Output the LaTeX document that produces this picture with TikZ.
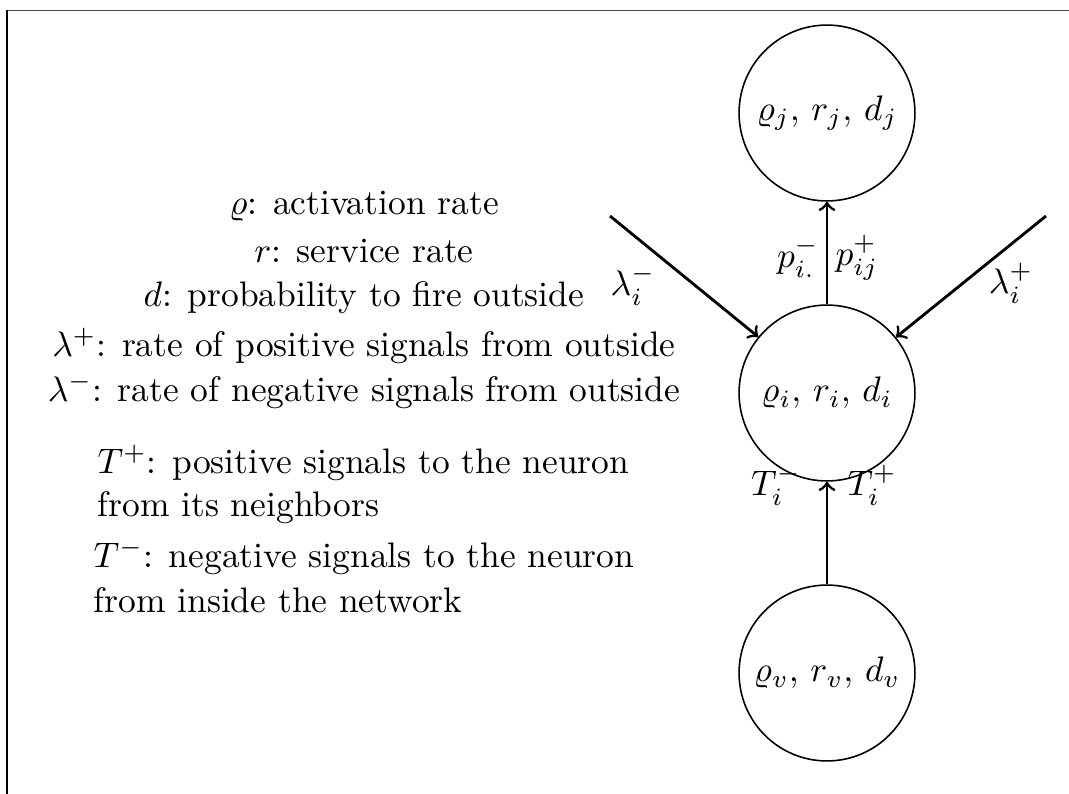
\documentclass[tikz,border=0pt]{standalone}
\usepackage{amsmath,amssymb}
\begin{document}
\begin{tikzpicture}[x=0.282pt,y=-0.282pt,
  neuron/.style={circle,draw,line width=0.45pt,minimum size=49.6pt,inner sep=0pt},
  conn/.style={->,line width=0.8pt},
  legend/.style={anchor=base,inner sep=0pt},
  legendl/.style={anchor=base west,inner sep=0pt},
  lab/.style={inner sep=0pt}]
\useasboundingbox (0,0) rectangle (1069,794);
\draw[line width=0.4pt,black!70] (7,10.5) -- (1069,10.5);
\draw[line width=0.45pt] (7,10) -- (7,794);
% neurons
\node[neuron] (j) at (827,113) {$\varrho_j,\, r_j,\, d_j$};
\node[neuron] (i) at (827,393) {$\varrho_i,\, r_i,\, d_i$};
\node[neuron] (v) at (827,673) {$\varrho_v,\, r_v,\, d_v$};
\coordinate (lin) at (610,216);
\coordinate (rin) at (1046,216);
\draw[conn] (i) -- (j);
\draw[conn] (v) -- (i);
\draw[conn] (lin) -- (i);
\draw[conn] (rin) -- (i);
% labels
\node[lab] (lm) at (633,285) {$\lambda_i^-$};
\node[lab] (lp) at (1011,283) {$\lambda_i^+$};
\node[lab] (pm) at (798,257) {$p_{i.}^-$};
\node[lab] (pp) at (857,258) {$p_{ij}^+$};
\node[lab] (tm) at (776,485) {$T_i^-$};
\node[lab] (tp) at (872,485) {$T_i^+$};
% legend
\node[legend] (l1) at (364,214) {$\varrho$: activation rate};
\node[legend] (l2) at (364,262) {$r$: service rate};
\node[legend] (l3) at (364,306) {$d$: probability to fire outside};
\node[legend] (l4) at (364,356) {$\lambda^+$: rate of positive signals from outside};
\node[legend] (l5) at (364,401) {$\lambda^-$: rate of negative signals from outside};
\node[legendl] (t1) at (97,473) {$T^+$: positive signals to the neuron};
\node[legendl] (t2) at (97,516) {from its neighbors};
\node[legendl] (t3) at (93,567) {$T^-$: negative signals to the neuron};
\node[legendl] (t4) at (93,612) {from inside the network};
\end{tikzpicture}
\end{document}
